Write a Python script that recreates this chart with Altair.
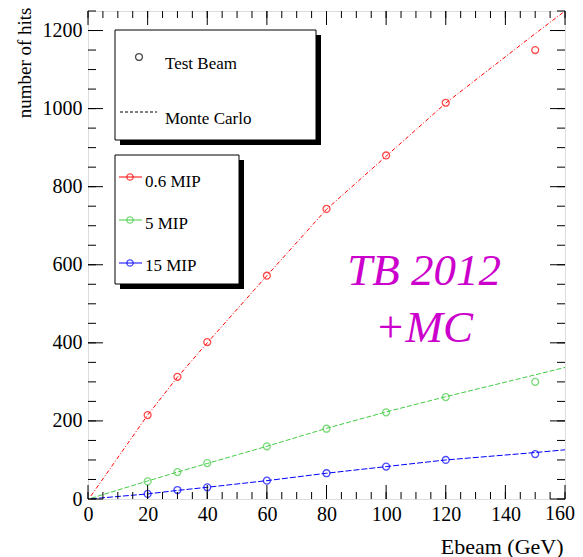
import altair as alt
import pandas as pd

# ---- data ----
energies = [20, 30, 40, 60, 80, 100, 120, 150]
tb_06 = [215, 313, 402, 572, 743, 880, 1015, 1150]
tb_5 = [45, 69, 92, 135, 180, 222, 261, 300]
tb_15 = [13, 23, 30, 47, 66, 83, 100, 115]

mc_energies = [1, 20, 30, 40, 60, 80, 100, 120, 150, 160]
mc_06 = [8, 215, 312, 400, 572, 742, 878, 1014, 1192, 1250]
mc_5 = [2, 46, 69, 91, 135, 181, 223, 262, 318, 337]
mc_15 = [0.5, 13, 22, 30, 47, 66, 83, 100, 119, 126]

series = ["0.6 MIP", "5 MIP", "15 MIP"]
colors = ["#ff0000", "#44cc44", "#0000ff"]
dashes = [[4, 2, 1, 2], [5, 2], [6, 2]]

x_major = [0, 20, 40, 60, 80, 100, 120, 140, 160]
x_minor = [v for v in range(0, 161, 5)]
y_major = [0, 200, 400, 600, 800, 1000, 1200]
y_minor = [v for v in range(0, 1251, 50)]

legend1 = ["Test Beam", "Monte Carlo"]
annot = ["TB 2012", "+MC"]

W, H = 477, 488
FONT = "Liberation Serif"

tb = pd.DataFrame({
    "E": energies * 3,
    "hits": tb_06 + tb_5 + tb_15,
    "series": sum([[s] * len(energies) for s in series], []),
})
mc = pd.DataFrame({
    "E": mc_energies * 3,
    "hits": mc_06 + mc_5 + mc_15,
    "series": sum([[s] * len(mc_energies) for s in series], []),
})

xs = alt.Scale(domain=[0, 160], nice=False, zero=False)
ys = alt.Scale(domain=[0, 1250], nice=False, zero=False)
xaxis = alt.Axis(values=x_major[:-1], format="d", ticks=False, domain=False, grid=False,
                 labelFont=FONT, labelFontSize=20, labelColor="black", labelPadding=5,
                 labelBaseline="top",
                 title="Ebeam (GeV)", titleFont=FONT, titleFontSize=22, titleFontWeight="normal",
                 titleColor="black", titleX=W - 2, titleY=54, titleAlign="right",
                 titleBaseline="alphabetic", labelFlush=False)
yaxis = alt.Axis(values=y_major, format="d", ticks=False, domain=False, grid=False,
                 labelFont=FONT, labelFontSize=20, labelColor="black", labelPadding=6,
                 title="number of hits", titleFont=FONT, titleFontSize=19, titleFontWeight="normal",
                 titleColor="black", titleX=-58, titleY=-4, titleAlign="right", titleAngle=270,
                 titleBaseline="alphabetic", labelFlush=False)

def X(f):
    return alt.X(f, type="quantitative", scale=xs, axis=xaxis)

def Y(f):
    return alt.Y(f, type="quantitative", scale=ys, axis=yaxis)

color = alt.Color("series:N", scale=alt.Scale(domain=series, range=colors), legend=None)
dash = alt.StrokeDash("series:N", scale=alt.Scale(domain=series, range=dashes), legend=None)

mc_lines = alt.Chart(mc).mark_line(strokeWidth=1, clip=True).encode(
    x=X("E"), y=Y("hits"), color=color, strokeDash=dash, detail="series:N")
tb_pts = alt.Chart(tb).mark_point(shape="circle", filled=False, size=48, strokeWidth=1.3, clip=True).encode(
    x=X("E"), y=Y("hits"), color=color)

# last x tick label, pulled in so it stays on the page
last_lab = alt.Chart(pd.DataFrame({"v": x_major[-1:]})).mark_text(
    font=FONT, fontSize=20, align="right", baseline="top", dx=10, color="black").encode(
    x=X("v"), y=alt.value(H + 5), text=alt.Text("v:Q", format="d"))

# ROOT-style inner ticks
def tick_df(vals):
    return pd.DataFrame({"v": vals})

ticks = []
for vals, ln in [(x_major, 14), (x_minor, 7)]:
    ticks.append(alt.Chart(tick_df(vals)).mark_rule(color="black", strokeWidth=1).encode(
        x=X("v"), y=alt.value(H), y2=alt.value(H - ln)))
    ticks.append(alt.Chart(tick_df(vals)).mark_rule(color="black", strokeWidth=1).encode(
        x=X("v"), y=alt.value(0), y2=alt.value(ln)))
for vals, ln in [(y_major, 15), (y_minor, 8)]:
    ticks.append(alt.Chart(tick_df(vals)).mark_rule(color="black", strokeWidth=1).encode(
        y=Y("v"), x=alt.value(0), x2=alt.value(ln)))
    ticks.append(alt.Chart(tick_df(vals)).mark_rule(color="black", strokeWidth=1).encode(
        y=Y("v"), x=alt.value(W), x2=alt.value(W - ln)))

one = pd.DataFrame({"a": [0]})

def box(x1, y1, x2, y2):
    sh = alt.Chart(one).mark_rect(fill="black").encode(
        x=alt.value(x1 + 5), x2=alt.value(x2 + 5), y=alt.value(y1 + 5), y2=alt.value(y2 + 5))
    bx = alt.Chart(one).mark_rect(fill="white", stroke="black", strokeWidth=1).encode(
        x=alt.value(x1), x2=alt.value(x2), y=alt.value(y1), y2=alt.value(y2))
    return [sh, bx]

leg = []
leg += box(27, 19, 228, 129)
leg.append(alt.Chart(one).mark_point(shape="circle", filled=False, size=48, strokeWidth=1.3, color="black").encode(
    x=alt.value(51), y=alt.value(46)))
leg.append(alt.Chart(one).mark_text(text=legend1[0], font=FONT, fontSize=17, align="left",
                                    baseline="alphabetic", color="black").encode(
    x=alt.value(77), y=alt.value(58)))
leg.append(alt.Chart(one).mark_rule(color="black", strokeWidth=1, strokeDash=[3, 2]).encode(
    x=alt.value(32), x2=alt.value(69), y=alt.value(101)))
leg.append(alt.Chart(one).mark_text(text=legend1[1], font=FONT, fontSize=17, align="left",
                                    baseline="alphabetic", color="black").encode(
    x=alt.value(77), y=alt.value(113)))

leg += box(27, 144, 151, 273)
line_y = [166, 209, 252]
text_y = [176, 218, 260]
for s, c, ly, ty in zip(series, colors, line_y, text_y):
    leg.append(alt.Chart(one).mark_rule(color=c, strokeWidth=1).encode(
        x=alt.value(31), x2=alt.value(54), y=alt.value(ly)))
    leg.append(alt.Chart(one).mark_point(shape="circle", filled=False, size=40, strokeWidth=1.3, color=c).encode(
        x=alt.value(42), y=alt.value(ly)))
    leg.append(alt.Chart(one).mark_text(text=s, font=FONT, fontSize=17, align="left",
                                        baseline="alphabetic", color="black").encode(
        x=alt.value(57), y=alt.value(ty)))

ann = []
for t, yy in zip(annot, [274, 331]):
    ann.append(alt.Chart(one).mark_text(text=t, font=FONT, fontSize=45, fontStyle="italic",
                                        align="center", baseline="alphabetic", color="#cc00cc").encode(
        x=alt.value(336), y=alt.value(yy)))

chart = alt.layer(mc_lines, tb_pts, last_lab, *ticks, *leg, *ann).properties(
    width=W, height=H,
    autosize=alt.AutoSizeParams(type="none"),
    padding={"left": 80, "top": 3, "right": 10, "bottom": 58},
).configure_view(stroke="black", strokeWidth=1.2).configure(background="white")

chart.save("out.html", embed_options={"renderer": "svg", "actions": False})
